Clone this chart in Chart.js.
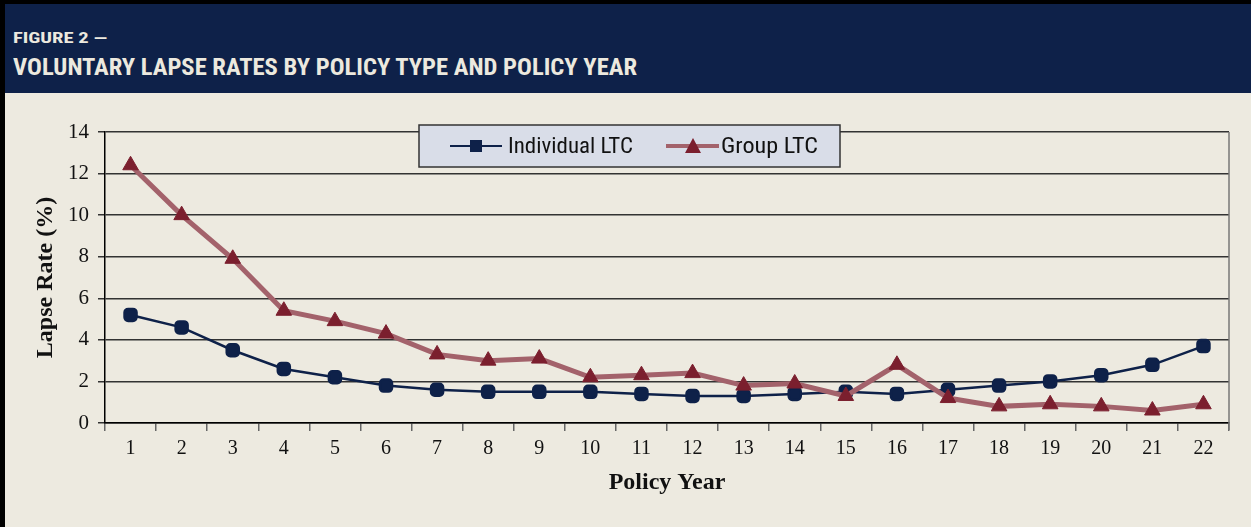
<!DOCTYPE html>
<html lang="en">
<head>
<meta charset="UTF-8" />
<title>Voluntary Lapse Rates</title>
<script src="https://cdn.jsdelivr.net/npm/chart.js@4/dist/chart.umd.min.js"></script>
<style>
  html, body { margin: 0; padding: 0; }
  body { width: 1251px; height: 527px; background: #edeae0; overflow: hidden; position: relative; }
  #frame { position: absolute; left: 0; top: 0; width: 1251px; height: 527px; border-top: 4px solid #000; border-left: 5px solid #000; box-sizing: border-box; }
  #header { position: absolute; left: 5px; top: 4px; width: 1246px; height: 89px; background: #0e2149; color: #ece9df;
            font-family: "Liberation Sans Narrow", "Arial Narrow", "Roboto Condensed", "Liberation Sans", sans-serif; font-weight: bold; }
  #header div { position: absolute; left: 8px; white-space: nowrap; transform-origin: 0 50%; }
  #fig { top: 25px; font-size: 15px; }
  #ttl { top: 50px; font-size: 23px; }
  #wrap { position: absolute; left: 5px; top: 93px; width: 1246px; height: 434px; }
</style>
</head>
<body>
<div id="frame"></div>
<div id="header">
  <div id="fig">FIGURE 2 —</div>
  <div id="ttl">VOLUNTARY LAPSE RATES BY POLICY TYPE AND POLICY YEAR</div>
</div>
<div id="wrap"><canvas id="lapseChart" width="1246" height="434"></canvas></div>

<script>
  // data
  const policyYears = ['1','2','3','4','5','6','7','8','9','10','11','12','13','14','15','16','17','18','19','20','21','22'];
  const individualLTC = [5.2, 4.6, 3.5, 2.6, 2.2, 1.8, 1.6, 1.5, 1.5, 1.5, 1.4, 1.3, 1.3, 1.4, 1.5, 1.4, 1.6, 1.8, 2.0, 2.3, 2.8, 3.7];
  const groupLTC = [12.4, 10.0, 7.9, 5.4, 4.9, 4.3, 3.3, 3.0, 3.1, 2.2, 2.3, 2.4, 1.8, 1.9, 1.3, 2.8, 1.2, 0.8, 0.9, 0.8, 0.6, 0.9];
  const yTicks = [0, 2, 4, 6, 8, 10, 12, 14];

  const serif = '"Liberation Serif", "Times New Roman", serif';
  const narrow = '"Liberation Sans Narrow", "Arial Narrow", "Roboto Condensed", "Liberation Sans", sans-serif';

  // squeeze/stretch header text to the widths in the original
  function fitWidth(id, target) {
    const el = document.getElementById(id);
    const w = el.getBoundingClientRect().width;
    el.style.transform = 'scaleX(' + (target / w) + ')';
  }
  fitWidth('fig', 94);
  fitWidth('ttl', 624);

  // legend box inside plot + right border line
  const boxPlugin = {
    id: 'boxPlugin',
    afterDraw(chart) {
      const c = chart.ctx, a = chart.chartArea;
      c.save();
      c.strokeStyle = '#777';
      c.lineWidth = 1.5;
      c.beginPath();
      c.moveTo(a.right, a.top);
      c.lineTo(a.right, a.bottom + 7);
      c.stroke();

      // legend
      const x0 = 414, y0 = 32, w = 421, h = 42;
      c.fillStyle = '#d9dde8';
      c.fillRect(x0, y0, w, h);
      c.strokeStyle = '#333';
      c.lineWidth = 1.5;
      c.strokeRect(x0, y0, w, h);
      const cy = y0 + h / 2;
      c.textBaseline = 'middle';

      const drawLabel = (txt, x, width) => {
        c.font = '22px ' + narrow;
        const tw = c.measureText(txt).width;
        c.save();
        c.translate(x, cy + 1);
        c.scale(width / tw, 1);
        c.fillStyle = '#111';
        c.fillText(txt, 0, 0);
        c.restore();
      };

      // Individual
      c.strokeStyle = '#0e2149';
      c.lineWidth = 2;
      c.beginPath(); c.moveTo(x0 + 31, cy); c.lineTo(x0 + 83, cy); c.stroke();
      c.fillStyle = '#0e2149';
      c.fillRect(x0 + 51, cy - 6, 12, 12);
      drawLabel('Individual LTC', x0 + 89, 125);

      // Group
      c.strokeStyle = '#a3626b';
      c.lineWidth = 4;
      c.beginPath(); c.moveTo(x0 + 247, cy); c.lineTo(x0 + 300, cy); c.stroke();
      c.fillStyle = '#7b1f2e';
      c.beginPath();
      c.moveTo(x0 + 274, cy - 8); c.lineTo(x0 + 282, cy + 7); c.lineTo(x0 + 266, cy + 7); c.closePath();
      c.fill();
      drawLabel('Group LTC', x0 + 302, 97);
      c.restore();
    }
  };

  new Chart(document.getElementById('lapseChart'), {
    type: 'line',
    data: {
      labels: policyYears,
      datasets: [
        {
          label: 'Group LTC',
          data: groupLTC,
          borderColor: '#a3626b',
          borderWidth: 5,
          pointStyle: 'triangle',
          pointRadius: 9,
          pointBackgroundColor: '#7b1f2e',
          pointBorderColor: '#7b1f2e',
          pointBorderWidth: 1,
          tension: 0
        },
        {
          label: 'Individual LTC',
          data: individualLTC,
          borderColor: '#0e2149',
          borderWidth: 2.5,
          pointStyle: 'rectRounded',
          pointRadius: 7,
          pointBackgroundColor: '#0e2149',
          pointBorderColor: '#0e2149',
          tension: 0
        }
      ]
    },
    options: {
      responsive: false,
      animation: false,
      layout: { padding: { top: 39, right: 22, bottom: 28, left: 0 } },
      plugins: {
        legend: { display: false },
        tooltip: { enabled: false }
      },
      scales: {
        x: {
          offset: true,
          grid: { offset: true, drawOnChartArea: false, drawTicks: true, tickLength: 8, color: '#666', lineWidth: 1.5 },
          border: { display: true, color: '#000', width: 1.5 },
          ticks: { font: { family: serif, size: 20 }, color: '#111', padding: 6, maxRotation: 0 },
          title: { display: true, text: 'Policy Year', font: { family: serif, size: 24, weight: 'bold' }, color: '#111', padding: { top: 4, bottom: 2 } },
          afterFit(scale) { scale.height = 76; }
        },
        y: {
          min: 0,
          max: 14,
          afterBuildTicks(scale) { scale.ticks = yTicks.map(v => ({ value: v })); },
          grid: { color: '#333', lineWidth: 1.5, tickLength: 7 },
          border: { display: true, color: '#000', width: 1.5 },
          ticks: { font: { family: serif, size: 21 }, color: '#111', padding: 9 },
          title: { display: true, text: 'Lapse Rate (%)', font: { family: serif, size: 24, weight: 'bold' }, color: '#111', padding: { top: 26, bottom: 0 } },
          afterFit(scale) { scale.width = 100; }
        }
      }
    },
    plugins: [boxPlugin]
  });
</script>
</body>
</html>
